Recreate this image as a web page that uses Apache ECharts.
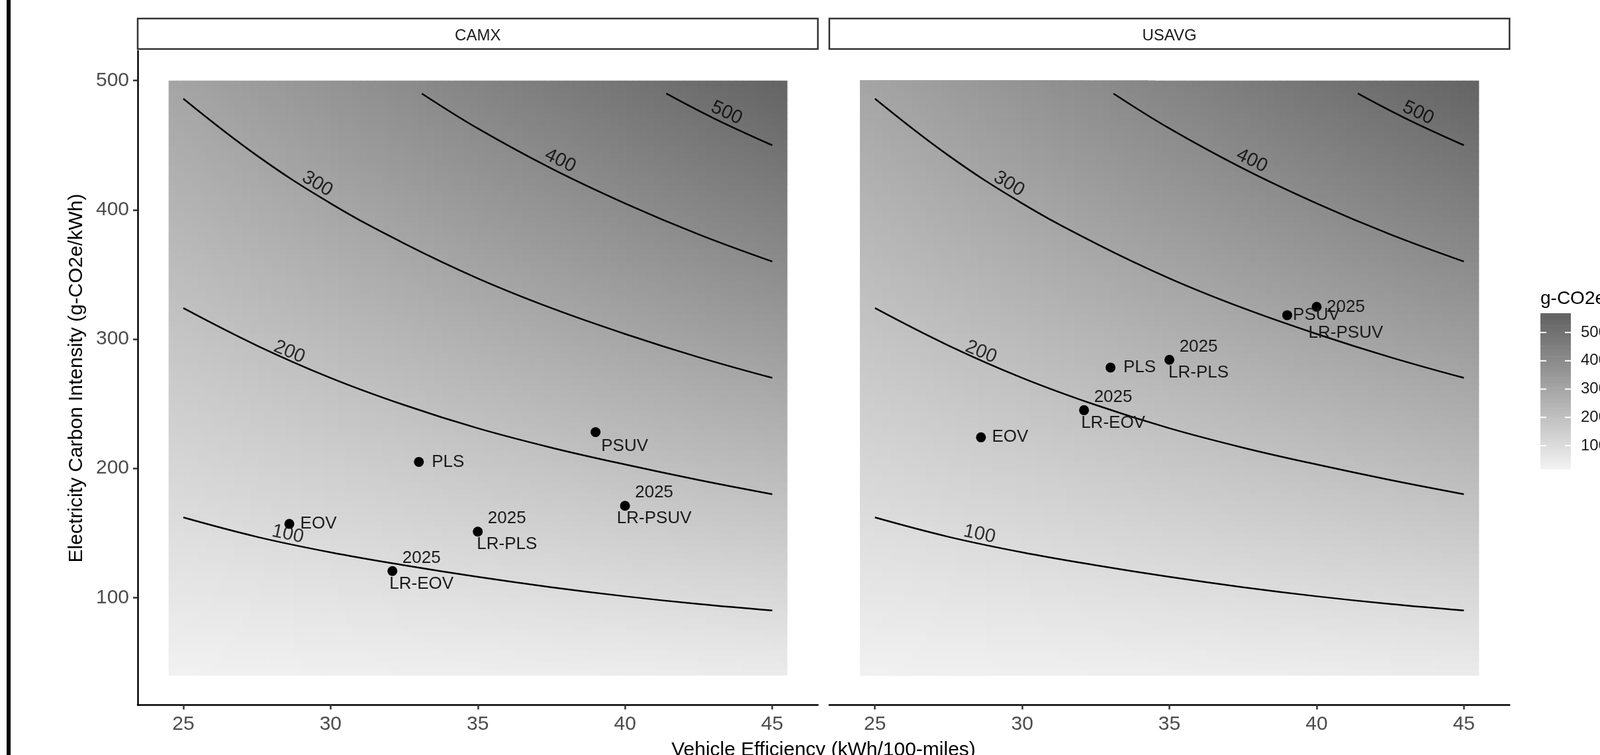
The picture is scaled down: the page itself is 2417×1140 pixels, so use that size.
<!DOCTYPE html>
<html>
<head>
<meta charset="utf-8">
<script src="https://cdn.jsdelivr.net/npm/echarts@6/dist/echarts.min.js"></script>
<style>
  html, body { margin: 0; padding: 0; background: #fff; }
  #main { width: 2417px; height: 1140px; }
</style>
</head>
<body>
<div id="main"></div>
<script>
// facets
var regions = ['CAMX', 'USAVG'];

// vehicles (same efficiencies in both facets)
var vehicles = ['EOV', 'LR-EOV', 'PLS', 'LR-PLS', 'PSUV', 'LR-PSUV'];
var vehicleYear = ['', '2025', '', '2025', '', '2025'];
var efficiency = [28.6, 32.1, 33.0, 35.0, 39.0, 40.0];
var intensityCAMX = [157, 120.5, 205, 151, 228, 171];
var intensityUSAVG = [224, 245, 278, 284, 318.5, 325];

// contour lines: [efficiency, intensity]
var contourLevels = [100, 200, 300, 400, 500];
var contour100 = [[25, 162], [27.5, 147], [30, 135], [32.5, 125], [35, 116], [37.5, 108], [40, 101], [42.5, 95], [45, 90]];
var contour200 = [[25, 324], [27.5, 295], [30, 270], [32.5, 249], [35, 231], [37.5, 216], [40, 203], [42.5, 191], [45, 180]];
var contour300 = [[25, 486], [27.5, 442], [30, 405], [32.5, 374], [35, 347], [37.5, 324], [40, 304], [42.5, 286], [45, 270]];
var contour400 = [[33.1, 490], [35, 463], [37.5, 432], [40, 405], [42.5, 381], [45, 360]];
var contour500 = [[41.4, 490], [43, 471], [45, 450]];
var contourLabelX = [28.55, 28.6, 29.55, 37.8, 43.45];
var contourLabelY = [149, 290, 420, 438, 475];

// ticks
var xTicks = [25, 30, 35, 40, 45];
var yTicks = [100, 200, 300, 400, 500];
var legendTicks = [100, 200, 300, 400, 500];

// background field extent; fill = efficiency * intensity / 40.5 (matches contour levels)
var rasterX = [24.5, 45.5];
var rasterY = [40, 500];
var fieldDivisor = 40.5;
var legendRange = [18, 568];

var FONT = 'Liberation Sans';
var contourLines = [contour100, contour200, contour300, contour400, contour500];
var contourAngles = [-12, -23, -31, -26, -25];
// small vertical label shifts (px) where labels were pushed off their point
var labelShift = { CAMX: { PSUV: 21 }, USAVG: { 'LR-PSUV': 20 } };

// grey scale interpolated in L* like ggplot's gradient
function toLin(c) { c /= 255; return c <= 0.04045 ? c / 12.92 : Math.pow((c + 0.055) / 1.055, 2.4); }
function toSrgb(v) { var c = v <= 0.0031308 ? 12.92 * v : 1.055 * Math.pow(v, 1 / 2.4) - 0.055; return Math.round(Math.max(0, Math.min(1, c)) * 255); }
function lstar(Y) { return Y > 0.008856 ? 116 * Math.cbrt(Y) - 16 : 903.3 * Y; }
function lumY(L) { return L > 8 ? Math.pow((L + 16) / 116, 3) : L / 903.3; }
var lowL = lstar(toLin(243)), highL = lstar(toLin(98));
function greyAt(v) {
  var t = (v - legendRange[0]) / (legendRange[1] - legendRange[0]);
  t = Math.max(0, Math.min(1, t));
  var g = toSrgb(lumY(lowL + t * (highL - lowL)));
  return 'rgb(' + g + ',' + g + ',' + g + ')';
}

var rasterCells = [];
for (var x0 = rasterX[0]; x0 < rasterX[1] - 1e-9; x0 += 0.25) {
  for (var y0 = rasterY[0]; y0 < rasterY[1] - 1e-9; y0 += 5) {
    var cx = x0 + 0.125, cy = y0 + 2.5;
    rasterCells.push([x0, y0, x0 + 0.25, y0 + 5, cx * cy / fieldDivisor]);
  }
}
var legendCells = [];
for (var v = legendRange[0]; v < legendRange[1] - 1e-9; v += 2.5) {
  legendCells.push([0, v, 1, v + 2.5, v + 1.25]);
}

function rasterSeries(i) {
  return {
    type: 'custom', xAxisIndex: i, yAxisIndex: i, silent: true, z: 1, clip: false,
    data: rasterCells, encode: { x: [0, 2], y: [1, 3] },
    renderItem: function (params, api) {
      var p0 = api.coord([api.value(0), api.value(1)]);
      var p1 = api.coord([api.value(2), api.value(3)]);
      return {
        type: 'rect',
        shape: { x: p0[0], y: p1[1], width: p1[0] - p0[0] + 0.7, height: p0[1] - p1[1] + 0.7 },
        style: { fill: greyAt(api.value(4)) }
      };
    }
  };
}

function contourSeries(i) {
  return contourLines.map(function (pts) {
    return {
      type: 'line', xAxisIndex: i, yAxisIndex: i, data: pts, smooth: 0.4,
      showSymbol: false, silent: true, z: 3,
      lineStyle: { color: '#000', width: 2.5 }
    };
  });
}

function contourLabelSeries(i) {
  return {
    type: 'scatter', xAxisIndex: i, yAxisIndex: i, silent: true, z: 4, symbolSize: 1,
    itemStyle: { color: 'rgba(0,0,0,0)' },
    data: contourLevels.map(function (lv, k) {
      return { value: [contourLabelX[k], contourLabelY[k], lv], label: { rotate: contourAngles[k] } };
    }),
    label: {
      show: true, position: 'inside', align: 'center', verticalAlign: 'middle',
      color: '#000', fontFamily: FONT, fontSize: 29,
      formatter: function (p) { return String(p.value[2]); }
    }
  };
}

function pointSeries(i, intensity) {
  var shifts = labelShift[regions[i]] || {};
  return {
    type: 'scatter', xAxisIndex: i, yAxisIndex: i, silent: true, z: 5, symbolSize: 15,
    itemStyle: { color: '#000', opacity: 1 },
    data: efficiency.map(function (e, k) {
      return { value: [e, intensity[k]], label: { offset: [44, shifts[vehicles[k]] || 0] } };
    }),
    label: {
      show: true, position: 'inside', offset: [44, 0], align: 'center', verticalAlign: 'middle',
      color: '#1a1a1a', fontFamily: FONT, fontSize: 26, lineHeight: 39,
      formatter: function (p) {
        var yr = vehicleYear[p.dataIndex];
        return yr ? yr + '\n' + vehicles[p.dataIndex] : vehicles[p.dataIndex];
      }
    }
  };
}

function makeX(i) {
  return {
    gridIndex: i, type: 'value', min: 23.45, max: 46.55,
    splitLine: { show: false },
    axisLine: { show: true, lineStyle: { color: '#000', width: 2.5 } },
    axisTick: { show: true, length: 7, customValues: xTicks, lineStyle: { color: '#333', width: 2.5 } },
    axisLabel: { customValues: xTicks, fontFamily: FONT, fontSize: 30, color: '#4d4d4d', margin: 14 }
  };
}
function makeY(i, visible) {
  return {
    gridIndex: i, type: 'value', min: 17, max: 523,
    splitLine: { show: false },
    axisLine: { show: visible, onZero: false, lineStyle: { color: '#000', width: 2.5 } },
    axisTick: { show: visible, length: 7, customValues: yTicks, lineStyle: { color: '#333', width: 2.5 } },
    axisLabel: { show: visible, customValues: yTicks, fontFamily: FONT, fontSize: 30, color: '#4d4d4d', margin: 13 }
  };
}

var chart = echarts.init(document.getElementById('main'));
var panelLeft = [208, 1252.8];
var panelW = 1027.5;

var graphics = [
  { type: 'rect', left: 10, top: 0, shape: { width: 6, height: 1140 }, style: { fill: '#000' } },
  {
    type: 'text', x: 116, y: 571, rotation: Math.PI / 2,
    style: { text: 'Electricity Carbon Intensity (g-CO2e/kWh)', font: '30px "' + FONT + '"', fill: '#000', align: 'center', verticalAlign: 'middle' }
  },
  {
    type: 'text', x: 1244, y: 1133,
    style: { text: 'Vehicle Efficiency (kWh/100-miles)', font: '30px "' + FONT + '"', fill: '#000', align: 'center', verticalAlign: 'middle' }
  },
  {
    type: 'text', x: 2327, y: 451,
    style: { text: 'g-CO2e/mile', font: '28px "' + FONT + '"', fill: '#000', align: 'left', verticalAlign: 'middle' }
  }
];
regions.forEach(function (r, i) {
  graphics.push({
    type: 'rect', shape: { x: panelLeft[i], y: 28, width: panelW, height: 46 },
    style: { fill: '#fff', stroke: '#333', lineWidth: 2.5 }
  });
  graphics.push({
    type: 'text', x: panelLeft[i] + panelW / 2, y: 54,
    style: { text: r, font: '24px "' + FONT + '"', fill: '#1a1a1a', align: 'center', verticalAlign: 'middle' }
  });
});

var series = [rasterSeries(0), rasterSeries(1)]
  .concat(contourSeries(0), contourSeries(1))
  .concat([contourLabelSeries(0), contourLabelSeries(1), pointSeries(0, intensityCAMX), pointSeries(1, intensityUSAVG)])
  .concat([
    {
      type: 'custom', xAxisIndex: 2, yAxisIndex: 2, silent: true, z: 1, clip: false,
      data: legendCells, encode: { x: [0, 2], y: [1, 3] },
      renderItem: function (params, api) {
        var p0 = api.coord([api.value(0), api.value(1)]);
        var p1 = api.coord([api.value(2), api.value(3)]);
        return {
          type: 'rect',
          shape: { x: p0[0], y: p1[1], width: p1[0] - p0[0], height: p0[1] - p1[1] + 0.7 },
          style: { fill: greyAt(api.value(4)) }
        };
      }
    },
    {
      type: 'custom', xAxisIndex: 2, yAxisIndex: 2, silent: true, z: 2, clip: false,
      data: legendTicks.map(function (t) { return [0, t]; }),
      renderItem: function (params, api) {
        var pL = api.coord([0, api.value(1)]);
        var pR = api.coord([1, api.value(1)]);
        var st = { stroke: '#fff', lineWidth: 2 };
        return {
          type: 'group', children: [
            { type: 'line', shape: { x1: pL[0], y1: pL[1], x2: pL[0] + 9, y2: pL[1] }, style: st },
            { type: 'line', shape: { x1: pR[0] - 9, y1: pR[1], x2: pR[0], y2: pR[1] }, style: st }
          ]
        };
      }
    }
  ]);

var option = {
  animation: false,
  backgroundColor: '#fff',
  grid: [
    { left: panelLeft[0], top: 76.8, width: panelW, height: 987.5, outerBoundsMode: 'none' },
    { left: panelLeft[1], top: 76.8, width: panelW, height: 987.5, outerBoundsMode: 'none' },
    { left: 2327, top: 473, width: 46, height: 235, outerBoundsMode: 'none' }
  ],
  xAxis: [makeX(0), makeX(1), { gridIndex: 2, type: 'value', min: 0, max: 1, show: false }],
  yAxis: [
    makeY(0, true), makeY(1, false),
    {
      gridIndex: 2, type: 'value', min: legendRange[0], max: legendRange[1], position: 'right',
      splitLine: { show: false }, axisLine: { show: false }, axisTick: { show: false },
      axisLabel: { customValues: legendTicks, fontFamily: FONT, fontSize: 24, color: '#1a1a1a', margin: 15 }
    }
  ],
  graphic: graphics,
  series: series
};
chart.setOption(option);
</script>
</body>
</html>
